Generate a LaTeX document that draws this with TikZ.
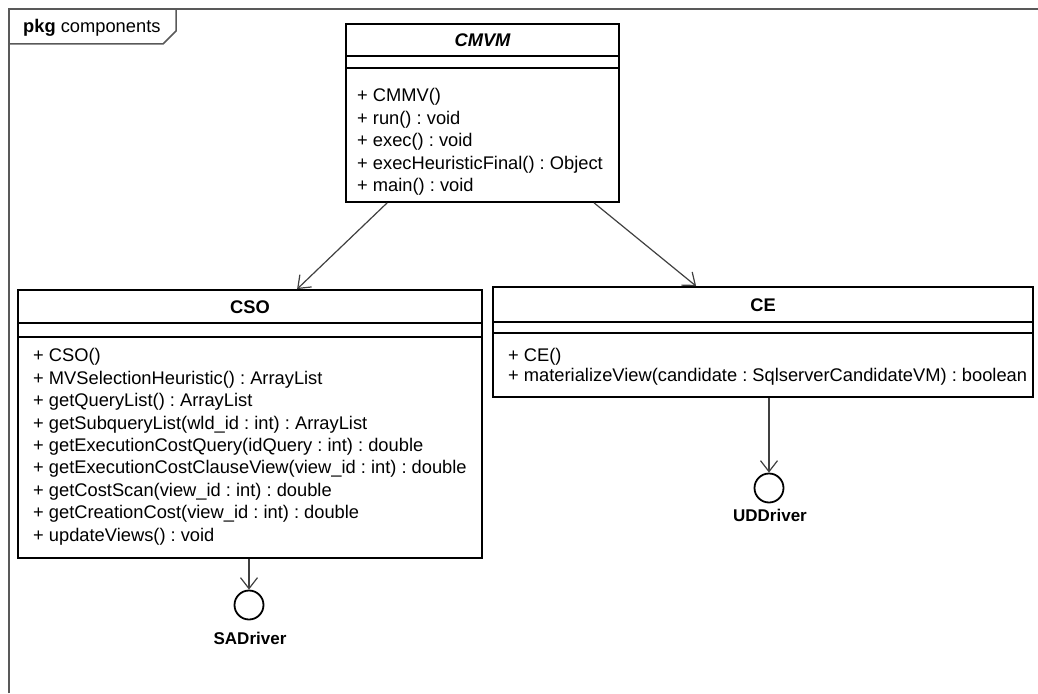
\documentclass[tikz,border=0pt]{standalone}
\usepackage{fontspec}
\setmainfont{Liberation Sans}
\usetikzlibrary{arrows.meta}
\frenchspacing
\newcommand\umlfont{\fontsize{18.3}{22.4}\selectfont}
\tikzset{
    CLS/.style ={rectangle, draw, line width=1.8pt, inner sep=0pt},
    TTL/.style ={font=\umlfont\bfseries, inner sep=0pt},
    OPS/.style ={align=left, anchor=north west, inner sep=0pt, font=\umlfont},
    IFC/.style ={circle, draw, line width=1.8pt, minimum size=29pt, inner sep=0pt},
    LBL/.style ={font=\fontsize{17}{17}\selectfont\bfseries, inner sep=0pt},
    DEP/.style ={draw=black!75, line width=1.2pt, -{Straight Barb[length=11pt,width=17pt]}},
    SEP/.style ={line width=1.8pt},
    FRM/.style ={draw=black!65, line width=1.5pt}}

\begin{document}
\begin{tikzpicture}[x=1pt,y=-1pt]
    \useasboundingbox (0,0) rectangle (1038,693);
    \draw[FRM] (9,693) -- (9,9) -- (1038,9);
    \draw[FRM] (9,44) -- (163,44) -- (176,31) -- (176,9);
    \node[anchor=west, font=\umlfont, inner sep=0pt] (pkg) at (23,28) {\textbf{pkg} components};

    \node[CLS, minimum width=273, minimum height=178] (cmvm) at (482.5,113) {};
    \node[TTL, font=\umlfont\bfseries\itshape] (cmvmT) at (482.5,40) {CMVM};
    \draw[SEP] (346,56) -- (619,56) (346,68) -- (619,68);
    \node[OPS] (cmvmO) at (357,88.5) {+ CMMV()\\+ run() : void\\+ exec() : void\\
        + execHeuristicFinal() : Object\\+ main() : void};

    \node[CLS, minimum width=464, minimum height=268] (cso) at (250,424) {};
    \node[TTL] (csoT) at (250,307) {CSO};
    \draw[SEP] (18,323) -- (482,323) (18,337) -- (482,337);
    \node[OPS] (csoO) at (33,348.5) {+ CSO()\\+ MVSelectionHeuristic() : ArrayList\\
        + getQueryList() : ArrayList\\+ getSubqueryList(wld\_id : int) : ArrayList\\
        + getExecutionCostQuery(idQuery : int) : double\\
        + getExecutionCostClauseView(view\_id : int) : double\\
        + getCostScan(view\_id : int) : double\\
        + getCreationCost(view\_id : int) : double\\+ updateViews() : void};

    \node[CLS, minimum width=540, minimum height=110] (ce) at (763,342) {};
    \node[TTL] (ceT) at (763,305) {CE};
    \draw[SEP] (493,322) -- (1033,322) (493,333) -- (1033,333);
    \node[OPS] (ceO) at (508,348.5) {+ CE()\\[-3pt]
        + materializeView(candidate : SqlserverCandidateVM) : boolean};

    \node[IFC] (sad) at (249,605) {};
    \node[LBL] (sadL) at (250,638) {SADriver};
    \node[IFC] (udd) at (769,488) {};
    \node[LBL] (uddL) at (770,515) {UDDriver};

    \draw[DEP] ([xshift=42pt]cmvm.south west) -- ([xshift=280pt]cso.north west);
    \draw[DEP] ([xshift=249pt]cmvm.south west) -- ([xshift=204pt]ce.north west);
    \draw[DEP] (cso.south -| sad) -- (sad);
    \draw[DEP] (ce.south -| udd) -- (udd);
\end{tikzpicture}
\end{document}
